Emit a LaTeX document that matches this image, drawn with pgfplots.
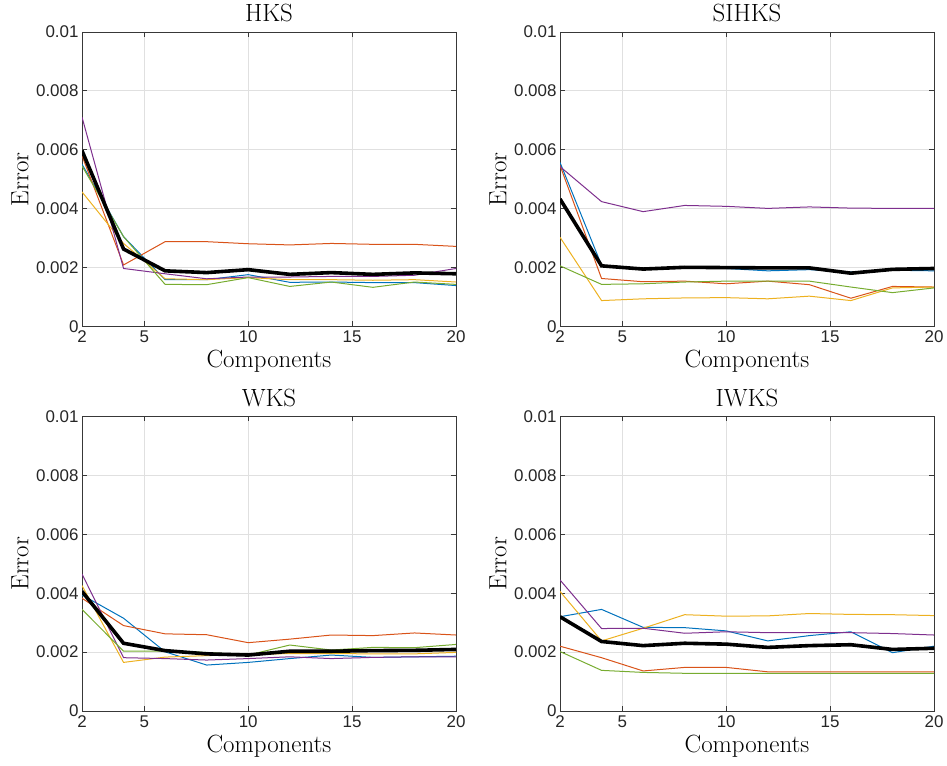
\documentclass[border=0pt]{standalone}
\usepackage{fontspec}
\usepackage{pgfplots}
\pgfplotsset{compat=1.18}
\newfontfamily\ticksf{Liberation Sans}
\definecolor{mblue}{rgb}{0,0.447,0.741}
\definecolor{morange}{rgb}{0.85,0.325,0.098}
\definecolor{myellow}{rgb}{0.929,0.694,0.125}
\definecolor{mpurple}{rgb}{0.494,0.184,0.556}
\definecolor{mgreen}{rgb}{0.466,0.674,0.188}
\pgfplotsset{
  mystyle/.style={
    scale only axis, width=374bp, height=294.5bp,
    xmin=2, xmax=20, ymin=0, ymax=0.01,
    xtick={2,5,10,15,20},
    ytick={0,0.002,0.004,0.006,0.008,0.01},
    scaled y ticks=false,
    yticklabel style={/pgf/number format/fixed,/pgf/number format/precision=3},
    /pgf/number format/assume math mode=true,
    tick label style={font=\fontsize{17}{19}\selectfont\ticksf, color=black!85},
    xticklabel style={yshift=-1bp},
    grid=major, grid style={color=black!12, line width=0.8bp},
    axis line style={color=black!78, line width=0.9bp},
    tick style={color=black!78, line width=0.9bp},
    major tick length=5bp,
    tick align=inside,
    xtick pos=both, ytick pos=both,
    xlabel={Components}, ylabel={Error},
    label style={font=\fontsize{25}{28}\selectfont},
    xlabel style={at={(axis description cs:0.5,-0.119)}, anchor=center},
    ylabel style={at={(axis description cs:-0.166,0.5)}, anchor=center},
    every axis title/.style={font=\fontsize{25}{28}\selectfont, at={(axis description cs:0.5,1)}, anchor=base, yshift=10bp},
    every axis plot/.append style={line width=1bp, no marks},
  },
  mean/.style={black, line width=3.6bp},
}
\begin{document}
\begin{tikzpicture}
\useasboundingbox (0,0) rectangle (947bp,766bp);
% HKS
\begin{axis}[mystyle, at={(82bp,439.5bp)}, anchor=south west, title={HKS}]
\addplot[mblue] coordinates {(2,0.00551)(4,0.00305)(6,0.00159)(8,0.00159)(10,0.00176)(12,0.0015)(14,0.00151)(16,0.00149)(18,0.00149)(20,0.00139)};
\addplot[morange] coordinates {(2,0.0058)(4,0.00209)(6,0.00288)(8,0.00288)(10,0.00281)(12,0.00277)(14,0.00282)(16,0.00279)(18,0.00279)(20,0.00272)};
\addplot[myellow] coordinates {(2,0.00457)(4,0.00282)(6,0.00162)(8,0.00159)(10,0.00166)(12,0.00159)(14,0.00159)(16,0.00157)(18,0.00159)(20,0.00151)};
\addplot[mpurple] coordinates {(2,0.00711)(4,0.00197)(6,0.00179)(8,0.00162)(10,0.00168)(12,0.00168)(14,0.0017)(16,0.0017)(18,0.00174)(20,0.00197)};
\addplot[mgreen] coordinates {(2,0.00545)(4,0.00305)(6,0.00143)(8,0.00142)(10,0.00166)(12,0.00136)(14,0.00151)(16,0.00133)(18,0.00151)(20,0.00143)};
\addplot[mean] coordinates {(2,0.00597)(4,0.00263)(6,0.00189)(8,0.00183)(10,0.00193)(12,0.00177)(14,0.00183)(16,0.00177)(18,0.00182)(20,0.00179)};
\end{axis}
% SIHKS
\begin{axis}[mystyle, at={(560bp,439.5bp)}, anchor=south west, title={SIHKS}]
\addplot[mblue] coordinates {(2,0.00557)(4,0.00208)(6,0.00197)(8,0.002)(10,0.00197)(12,0.00189)(14,0.00193)(16,0.00185)(18,0.00191)(20,0.00189)};
\addplot[morange] coordinates {(2,0.00547)(4,0.00163)(6,0.00152)(8,0.00154)(10,0.00145)(12,0.00154)(14,0.00142)(16,0.00096)(18,0.00136)(20,0.00134)};
\addplot[myellow] coordinates {(2,0.00303)(4,0.00088)(6,0.00094)(8,0.00097)(10,0.00098)(12,0.00094)(14,0.00103)(16,0.00088)(18,0.00131)(20,0.00134)};
\addplot[mpurple] coordinates {(2,0.00543)(4,0.00424)(6,0.0039)(8,0.00411)(10,0.00408)(12,0.00401)(14,0.00406)(16,0.00402)(18,0.00401)(20,0.00401)};
\addplot[mgreen] coordinates {(2,0.00206)(4,0.00143)(6,0.00145)(8,0.00151)(10,0.00154)(12,0.00154)(14,0.00154)(16,0.00134)(18,0.00115)(20,0.00131)};
\addplot[mean] coordinates {(2,0.00433)(4,0.00206)(6,0.00195)(8,0.00201)(10,0.002)(12,0.00199)(14,0.00199)(16,0.00181)(18,0.00194)(20,0.00197)};
\end{axis}
% WKS
\begin{axis}[mystyle, at={(82bp,55bp)}, anchor=south west, title={WKS}]
\addplot[mblue] coordinates {(2,0.00394)(4,0.00315)(6,0.00201)(8,0.00156)(10,0.00165)(12,0.00178)(14,0.0019)(16,0.00182)(18,0.00184)(20,0.00186)};
\addplot[morange] coordinates {(2,0.00383)(4,0.0029)(6,0.00262)(8,0.00259)(10,0.00232)(12,0.00244)(14,0.00258)(16,0.00256)(18,0.00265)(20,0.00258)};
\addplot[myellow] coordinates {(2,0.00426)(4,0.00165)(6,0.00183)(8,0.00188)(10,0.00192)(12,0.00195)(14,0.00195)(16,0.00194)(18,0.00194)(20,0.00199)};
\addplot[mpurple] coordinates {(2,0.00465)(4,0.00181)(6,0.00178)(8,0.00173)(10,0.00178)(12,0.00184)(14,0.00178)(16,0.00182)(18,0.00184)(20,0.00184)};
\addplot[mgreen] coordinates {(2,0.00345)(4,0.00203)(6,0.00203)(8,0.00199)(10,0.0019)(12,0.00224)(14,0.00207)(16,0.00216)(18,0.00215)(20,0.00226)};
\addplot[mean] coordinates {(2,0.00406)(4,0.0023)(6,0.00205)(8,0.00194)(10,0.0019)(12,0.00203)(14,0.00203)(16,0.00205)(18,0.00206)(20,0.00209)};
\end{axis}
% IWKS
\begin{axis}[mystyle, at={(560bp,55bp)}, anchor=south west, title={IWKS}]
\addplot[mblue] coordinates {(2,0.0032)(4,0.00345)(6,0.00284)(8,0.00283)(10,0.00272)(12,0.00238)(14,0.00256)(16,0.00269)(18,0.00198)(20,0.0022)};
\addplot[morange] coordinates {(2,0.0022)(4,0.00181)(6,0.00136)(8,0.00148)(10,0.00148)(12,0.00133)(14,0.00133)(16,0.00133)(18,0.00133)(20,0.00133)};
\addplot[myellow] coordinates {(2,0.00406)(4,0.00238)(6,0.00281)(8,0.00327)(10,0.00322)(12,0.00323)(14,0.00331)(16,0.00328)(18,0.00327)(20,0.00324)};
\addplot[mpurple] coordinates {(2,0.00445)(4,0.0028)(6,0.00281)(8,0.00264)(10,0.00269)(12,0.00266)(14,0.00266)(16,0.00266)(18,0.00263)(20,0.00258)};
\addplot[mgreen] coordinates {(2,0.00202)(4,0.00138)(6,0.00131)(8,0.00128)(10,0.00128)(12,0.00128)(14,0.00128)(16,0.00128)(18,0.00128)(20,0.00128)};
\addplot[mean] coordinates {(2,0.0032)(4,0.00236)(6,0.00222)(8,0.0023)(10,0.00227)(12,0.00216)(14,0.00222)(16,0.00225)(18,0.00209)(20,0.00213)};
\end{axis}
\end{tikzpicture}
\end{document}
